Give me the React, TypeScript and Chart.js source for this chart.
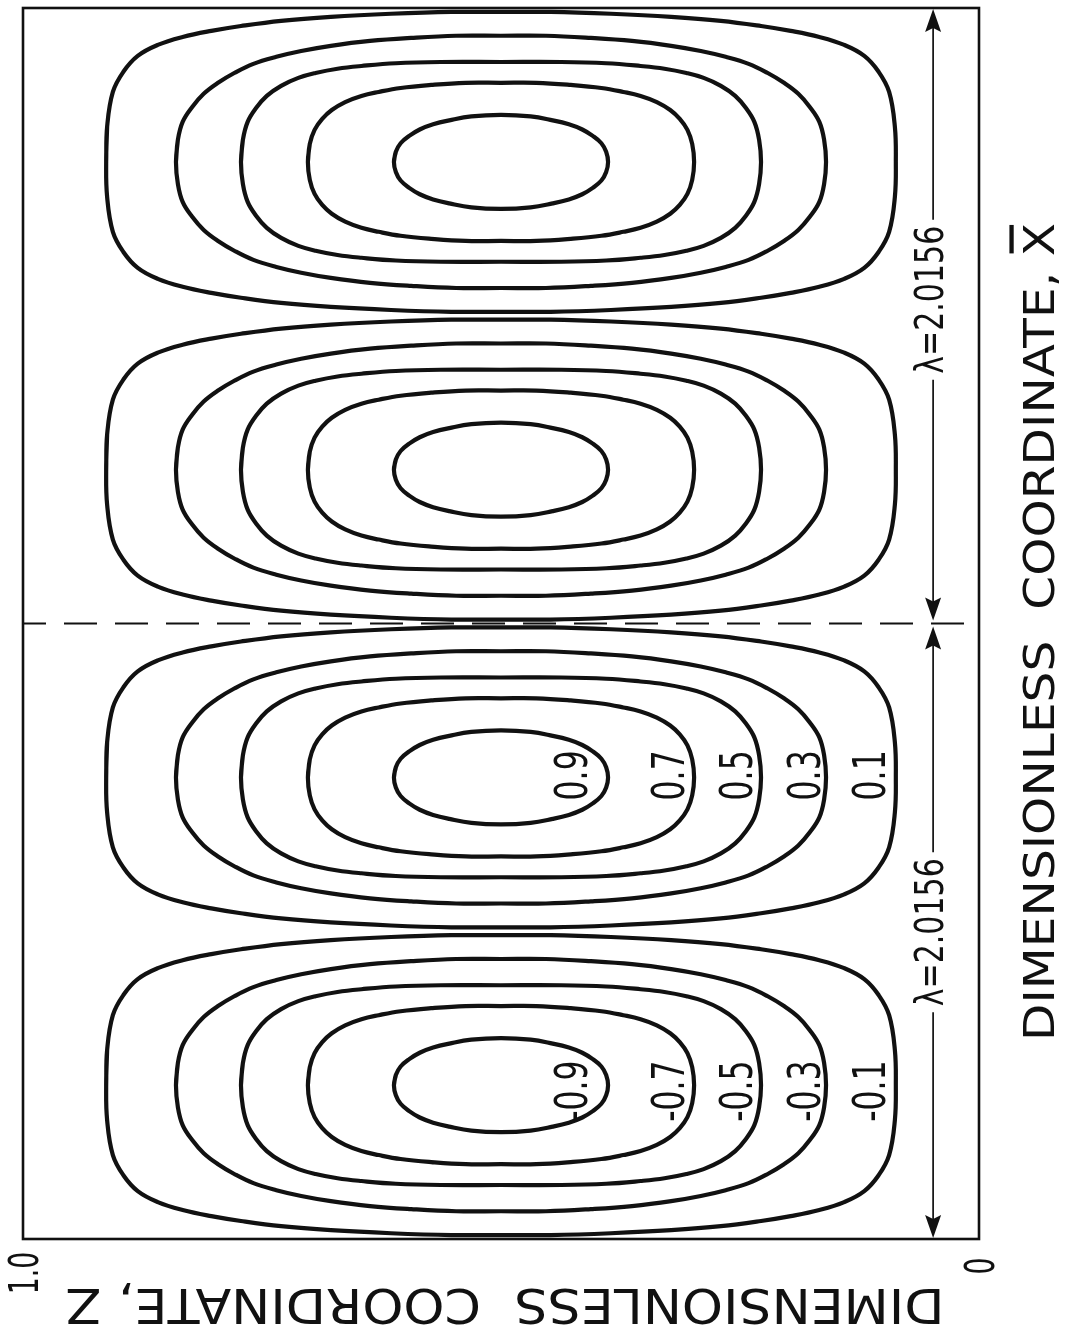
import { useEffect, useRef } from "react";
import { Chart, registerables } from "chart.js";

Chart.register(...registerables);

// Wavelength of the roll pattern and the two wavelengths shown
const WAVELENGTH = 2.0156;
const X_MAX = 4.0312;

// Roll cells along X̄ (bottom to top): centre, sense of rotation, labelled?
const CELL_X = [0.5039, 1.5117, 2.5195, 3.5273];
const CELL_SIGN = [-1, 1, -1, 1];
const CELL_LABELLED = [true, true, false, false];
const CELL_Z = 0.5;

// Stream-function levels and where their labels sit across the layer (Z̄)
const LEVELS = [0.1, 0.3, 0.5, 0.7, 0.9];
const LABEL_Z = [0.116, 0.184, 0.255, 0.326, 0.427];

// One quarter of each closed streamline, as [ΔZ̄, ΔX̄] from the cell centre,
// running from the side point (ΔX̄ = 0) to the top point (ΔZ̄ = 0).
const Q_010 = [
  [0.413, 0], [0.412, 0.115], [0.406, 0.229], [0.395, 0.295], [0.38, 0.347],
  [0.359, 0.383], [0.333, 0.409], [0.303, 0.429], [0.272, 0.445], [0.23, 0.462],
  [0.178, 0.475], [0.115, 0.485], [0.052, 0.491], [0, 0.491],
];
const Q_030 = [
  [0.34, 0], [0.338, 0.072], [0.333, 0.131], [0.323, 0.18], [0.311, 0.223],
  [0.296, 0.259], [0.279, 0.291], [0.259, 0.321], [0.235, 0.344], [0.209, 0.363],
  [0.178, 0.38], [0.137, 0.396], [0.094, 0.406], [0.047, 0.413], [0, 0.413],
];
const Q_050 = [
  [0.272, 0], [0.27, 0.072], [0.265, 0.131], [0.256, 0.177], [0.245, 0.216],
  [0.23, 0.249], [0.212, 0.275], [0.194, 0.291], [0.171, 0.305], [0.146, 0.314],
  [0.11, 0.323], [0.063, 0.327], [0, 0.327],
];
const Q_070 = [
  [0.202, 0], [0.2, 0.059], [0.195, 0.105], [0.187, 0.141], [0.177, 0.17],
  [0.163, 0.196], [0.146, 0.216], [0.128, 0.229], [0.105, 0.242], [0.073, 0.252],
  [0.037, 0.259], [0, 0.259],
];
const Q_090 = [
  [0.112, 0], [0.11, 0.033], [0.105, 0.061], [0.096, 0.085], [0.085, 0.106],
  [0.071, 0.123], [0.054, 0.136], [0.031, 0.149], [0, 0.154],
];
const QUARTERS = [Q_010, Q_030, Q_050, Q_070, Q_090];

// Axis text
const Z_TICKS = ["1.0", "0"];
const Z_TICK_VALUES = [1, 0];
const X_TITLE = "DIMENSIONLESS  COORDINATE, X";
const Z_TITLE = "DIMENSIONLESS  COORDINATE, Z";
const LAMBDA_LABEL = "\u03bb=2.0156";
const DIM_Z = 0.048;
const DIM_SPANS = [
  [0, WAVELENGTH],
  [WAVELENGTH, X_MAX],
];

const INK = "#111111";
const FONT = '"DejaVu Sans"';

type Pt = { x: number; y: number };

// Mirror a quarter into a closed loop around (zc, xc); the first two points are
// repeated at the end so the spline runs smoothly through the join.
function closedLoop(q: number[][], zc: number, xc: number): Pt[] {
  const pts: Pt[] = [];
  q.forEach(([a, b]) => pts.push({ x: zc + a, y: xc + b }));
  for (let i = q.length - 2; i >= 0; i--) pts.push({ x: zc - q[i][0], y: xc + q[i][1] });
  for (let i = 1; i < q.length; i++) pts.push({ x: zc - q[i][0], y: xc - q[i][1] });
  for (let i = q.length - 2; i >= 1; i--) pts.push({ x: zc + q[i][0], y: xc - q[i][1] });
  pts.push({ ...pts[0] }, { ...pts[1] });
  return pts;
}

// Text centred on (cx, cy), turned by angle, with the run along the reading
// direction either stretched by a factor or fitted to a length. Optionally an
// overbar is put on the last letter.
function drawText(
  ctx: CanvasRenderingContext2D,
  text: string,
  cx: number,
  cy: number,
  angle: number,
  size: number,
  stretch: number,
  fitLength?: number,
  barLast?: boolean
) {
  ctx.save();
  ctx.translate(cx, cy);
  ctx.rotate(angle);
  ctx.font = `${size}px ${FONT}`;
  ctx.textAlign = "center";
  ctx.textBaseline = "alphabetic";
  const w = ctx.measureText(text).width;
  const sx = fitLength ? fitLength / w : stretch;
  ctx.scale(sx, 1);
  const capH = size * 0.73;
  ctx.fillText(text, 0, capH * 0.5);
  if (barLast) {
    const wl = ctx.measureText(text.slice(-1)).width;
    const x0 = w / 2 - wl + size * 0.06;
    const x1 = w / 2 - size * 0.04;
    ctx.fillRect(x0, -capH * 0.5 - size * 0.3, x1 - x0, size * 0.1);
  }
  ctx.restore();
  return w * sx;
}

function arrowHead(ctx: CanvasRenderingContext2D, x: number, tip: number, dir: number) {
  ctx.beginPath();
  ctx.moveTo(x, tip);
  ctx.lineTo(x - 8, tip + dir * 23);
  ctx.lineTo(x, tip + dir * 19);
  ctx.lineTo(x + 8, tip + dir * 23);
  ctx.closePath();
  ctx.fill();
}

const sheetPlugin = {
  id: "sheet",
  beforeDraw(chart: any) {
    const { ctx, width, height } = chart;
    ctx.save();
    ctx.fillStyle = "#ffffff";
    ctx.fillRect(0, 0, width, height);
    ctx.restore();
  },
  afterDatasetsDraw(chart: any) {
    const { ctx, chartArea: a, scales } = chart;
    const xs = scales.x;
    const ys = scales.y;
    ctx.save();
    ctx.strokeStyle = INK;
    ctx.fillStyle = INK;

    // frame
    ctx.lineWidth = 2.6;
    ctx.strokeRect(a.left, a.top, a.right - a.left, a.bottom - a.top);

    // dashed divider at one wavelength
    const yMid = ys.getPixelForValue(WAVELENGTH);
    ctx.lineWidth = 2;
    ctx.setLineDash([33, 18]);
    ctx.lineDashOffset = 10;
    ctx.beginPath();
    ctx.moveTo(a.left, yMid);
    ctx.lineTo(a.right, yMid);
    ctx.stroke();
    ctx.setLineDash([]);

    // wavelength dimension lines
    const xd = xs.getPixelForValue(DIM_Z);
    DIM_SPANS.forEach(([from, to]) => {
      const yTop = ys.getPixelForValue(to) + (to === X_MAX ? 1 : 3);
      const yBot = ys.getPixelForValue(from) - (from === 0 ? 1 : 3);
      const yc = (yTop + yBot) / 2 - (to === X_MAX ? 15 : 0);
      const len = drawText(ctx, LAMBDA_LABEL, xd - 4, yc, -Math.PI / 2, 39, 0.77);
      ctx.lineWidth = 1.7;
      ctx.beginPath();
      ctx.moveTo(xd, yTop + 18);
      ctx.lineTo(xd, yc - len / 2 - 6);
      ctx.moveTo(xd, yc + len / 2 + 6);
      ctx.lineTo(xd, yBot - 18);
      ctx.stroke();
      arrowHead(ctx, xd, yTop, 1);
      arrowHead(ctx, xd, yBot, -1);
    });

    // streamline values
    CELL_X.forEach((xc, c) => {
      if (!CELL_LABELLED[c]) return;
      LEVELS.forEach((lv, i) => {
        const txt = (CELL_SIGN[c] < 0 ? "-" : "") + lv.toFixed(1);
        drawText(
          ctx,
          txt,
          xs.getPixelForValue(LABEL_Z[i]),
          ys.getPixelForValue(xc) + (CELL_SIGN[c] < 0 ? 6 : -2),
          -Math.PI / 2,
          45,
          0.7
        );
      });
    });

    // Z̄ end values
    Z_TICKS.forEach((t, i) => {
      const px = xs.getPixelForValue(Z_TICK_VALUES[i]);
      drawText(ctx, t, px, a.bottom + (i === 0 ? 34 : 27), -Math.PI / 2, 41, 0.65);
    });

    // axis titles
    drawText(ctx, X_TITLE, a.right + 59, 632, -Math.PI / 2, 43, 1, 818, true);
    drawText(ctx, Z_TITLE, 505, a.bottom + 68, Math.PI, 48, 1, 879, true);

    ctx.restore();
  },
};

export default function App() {
  const canvasRef = useRef<HTMLCanvasElement | null>(null);

  useEffect(() => {
    if (!canvasRef.current) return;
    const datasets: any[] = [];
    CELL_X.forEach((xc) => {
      QUARTERS.forEach((q) => {
        datasets.push({
          data: closedLoop(q, CELL_Z, xc),
          showLine: true,
          borderColor: INK,
          borderWidth: 4.2,
          borderCapStyle: "round",
          borderJoinStyle: "round",
          pointRadius: 0,
          tension: 0.4,
          fill: false,
        });
      });
    });

    const chart = new Chart(canvasRef.current, {
      type: "scatter",
      data: { datasets },
      options: {
        animation: false,
        responsive: false,
        devicePixelRatio: 1,
        events: [],
        layout: { padding: { left: 23, right: 86, top: 8, bottom: 91 } },
        plugins: { legend: { display: false }, tooltip: { enabled: false } },
        scales: {
          x: { type: "linear", min: 0, max: 1, reverse: true, display: false },
          y: { type: "linear", min: 0, max: X_MAX, display: false },
        },
      },
      plugins: [sheetPlugin],
    });
    return () => chart.destroy();
  }, []);

  return (
    <div style={{ position: "absolute", left: 0, top: 0, width: 1065, height: 1330, background: "#fff" }}>
      <canvas ref={canvasRef} width={1065} height={1330} style={{ display: "block", width: 1065, height: 1330 }} />
    </div>
  );
}
